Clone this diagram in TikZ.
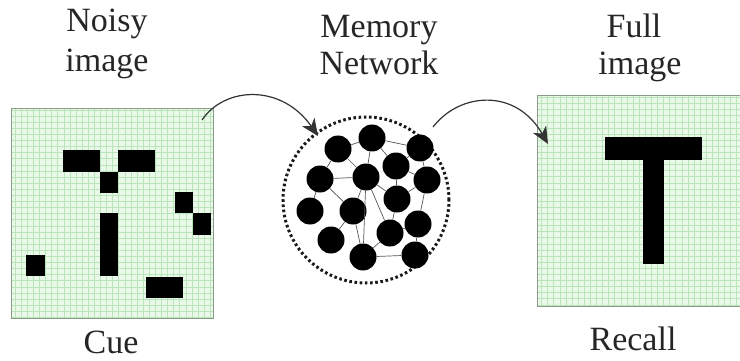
\documentclass[tikz,border=0pt]{standalone}
\usepackage{fontspec}
\setmainfont{Liberation Serif}
\usetikzlibrary{arrows.meta}
\definecolor{gridbg}{HTML}{EAF8EA}
\definecolor{gridln}{HTML}{B8E6B8}
\definecolor{frame}{HTML}{8C9A8C}
\definecolor{edgec}{HTML}{555555}
\tikzset{
  imgbox/.style={draw=frame, line width=1.2pt, fill=gridbg, anchor=north west, inner sep=0pt,
    path picture={\draw[gridln, line width=0.5pt, step=6.1pt]
      (path picture bounding box.south west) grid (path picture bounding box.north east);}},
  lbl/.style={anchor=base, inner sep=0pt, font=\fontsize{34}{40}\selectfont, text=black!85},
  blob/.style={circle, fill=black, minimum size=27pt, inner sep=0pt},
  net/.style={draw=edgec, line width=0.7pt},
  curvearrow/.style={draw=black!80, line width=1.2pt, -{Stealth[length=17pt,width=15pt,inset=5pt]}},
  px/.style={fill=black}
}
\begin{document}
\begin{tikzpicture}[x=1pt,y=-1pt]
\useasboundingbox (0,0) rectangle (740,361);
% labels
\node[lbl] (noisy1) at (107,32) {Noisy};
\node[lbl] (noisy2) at (107,72) {image};
\node[lbl] (mem1) at (379,38) {Memory};
\node[lbl] (mem2) at (379,75) {Network};
\node[lbl] (full1) at (634,38) {Full};
\node[lbl] (full2) at (640,75) {image};
\node[lbl] (cue) at (111,353) {Cue};
\node[lbl] (recall) at (633,350) {Recall};
% image boxes
\node[imgbox, minimum width=202pt, minimum height=210pt] (noisy) at (11,108) {};
\node[imgbox, minimum width=203pt, minimum height=211pt] (full) at (537,95) {};
% noisy pixels
\fill[px] (63,150) rectangle (100,172);
\fill[px] (118,150) rectangle (155,172);
\fill[px] (100,172) rectangle (118,193);
\fill[px] (175,192) rectangle (193,213);
\fill[px] (193,213) rectangle (211,235);
\fill[px] (100,213) rectangle (118,276);
\fill[px] (26,255) rectangle (45,276);
\fill[px] (146,277) rectangle (183,298);
% T
\fill[px] (605,137) rectangle (702,160);
\fill[px] (643,160) rectangle (664,264);
% network circle
\node[circle, draw=black!90, line width=3pt, dash pattern=on 2.6pt off 2.6pt, minimum size=166pt, inner sep=0pt] (netc) at (366,200) {};
\node[blob] (A) at (338,149) {};
\node[blob] (B) at (372,138) {};
\node[blob] (C) at (420,148) {};
\node[blob] (D) at (396,166) {};
\node[blob] (E) at (320,179) {};
\node[blob] (F) at (366,177) {};
\node[blob] (G) at (427,180) {};
\node[blob] (H) at (397,199) {};
\node[blob] (I) at (310,211) {};
\node[blob] (J) at (353,211) {};
\node[blob] (K) at (418,224) {};
\node[blob] (L) at (390,233) {};
\node[blob] (M) at (331,240) {};
\node[blob] (N) at (363,257) {};
\node[blob] (O) at (415,255) {};
\foreach \a/\b in {A/B,B/C,A/F,B/F,B/D,C/D,C/G,E/F,E/A,E/I,E/J,F/J,F/H,F/L,F/N,D/H,H/G,G/K,H/L,J/M,J/N,L/N,L/K,N/O,K/O,D/G}
  \draw[net] (\a) -- (\b);
% arrows
\coordinate (s1) at (202,120);
\coordinate (e1) at (318,136);
\coordinate (s2) at (433,127);
\coordinate (e2) at (548,144);
\draw[curvearrow] (s1) .. controls (225,86) and (282,84) .. (e1);
\draw[curvearrow] (s2) .. controls (460,92) and (516,88) .. (e2);
\end{tikzpicture}
\end{document}
